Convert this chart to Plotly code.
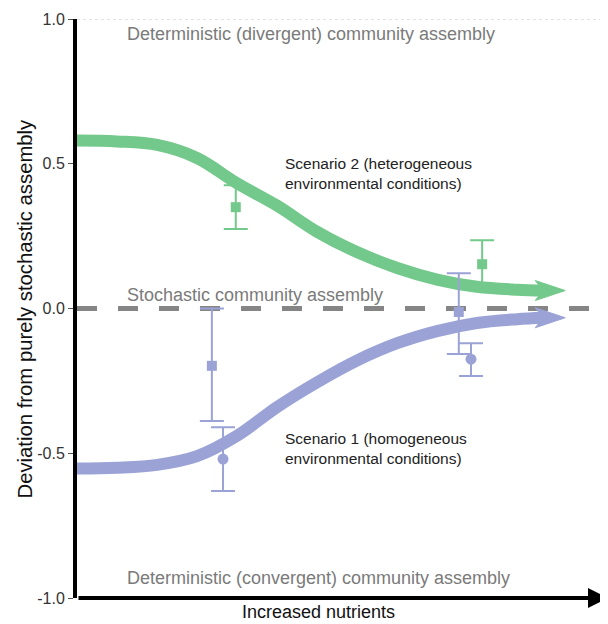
import plotly.graph_objects as go

# ---- data (x in arbitrary "nutrient" units 0..10) ----
curve_x = [0, 0.75, 1.51, 2.26, 3.01, 3.77, 4.52, 5.27, 6.03, 6.78, 7.53, 8.29, 8.78]
green_y = [0.58, 0.577, 0.565, 0.52, 0.433, 0.355, 0.265, 0.195, 0.14, 0.1, 0.075, 0.065, 0.062]
blue_y = [-0.553, -0.55, -0.54, -0.51, -0.44, -0.34, -0.255, -0.18, -0.12, -0.078, -0.05, -0.037, -0.032]

green_pts_x = [2.99, 7.63]
green_pts_y = [0.35, 0.153]
green_err_plus = [0.076, 0.083]
green_err_minus = [0.075, 0.073]

blue_sq_x = [2.54, 7.19]
blue_sq_y = [-0.198, -0.012]
blue_sq_plus = [0.198, 0.134]
blue_sq_minus = [0.191, 0.145]

blue_ci_x = [2.75, 7.42]
blue_ci_y = [-0.52, -0.175]
blue_ci_plus = [0.11, 0.055]
blue_ci_minus = [0.11, 0.058]

y_ticks = [1.0, 0.5, 0.0, -0.5, -1.0]
y_tick_labels = ["1.0", "0.5", "0.0", "-0.5", "-1.0"]

GREEN = "#73c98b"
BLUE = "#9ba3d6"
GRAY_TXT = "#7a7a7a"
FONT = "Liberation Sans, Arial, sans-serif"

# pixel -> data unit conversions (plot area 531 x 579 px)
PX_X = 10 / 531.0
PX_Y = 2 / 579.0


def arrow_head(xe, ye):
    back = 8 * PX_X
    tip = 22 * PX_X
    h = 10 * PX_Y
    xs = [xe - back, xe + tip, xe - back, xe, xe - back]
    ys = [ye + h, ye, ye - h, ye, ye + h]
    return xs, ys


fig = go.Figure()

# curves
for ys, col in [(green_y, GREEN), (blue_y, BLUE)]:
    fig.add_trace(go.Scatter(x=curve_x, y=ys, mode="lines",
                             line=dict(color=col, width=12, shape="spline", smoothing=1.0),
                             hoverinfo="skip", showlegend=False))
    ax_, ay_ = arrow_head(curve_x[-1], ys[-1])
    fig.add_trace(go.Scatter(x=ax_, y=ay_, mode="lines", fill="toself", fillcolor=col,
                             line=dict(color=col, width=1), hoverinfo="skip", showlegend=False))

# error-bar points
fig.add_trace(go.Scatter(x=green_pts_x, y=green_pts_y, mode="markers",
                         marker=dict(symbol="square", size=10, color=GREEN),
                         error_y=dict(type="data", array=green_err_plus, arrayminus=green_err_minus,
                                      color=GREEN, thickness=2, width=12),
                         showlegend=False))
fig.add_trace(go.Scatter(x=blue_sq_x, y=blue_sq_y, mode="markers",
                         marker=dict(symbol="square", size=10, color=BLUE),
                         error_y=dict(type="data", array=blue_sq_plus, arrayminus=blue_sq_minus,
                                      color=BLUE, thickness=2, width=12),
                         showlegend=False))
fig.add_trace(go.Scatter(x=blue_ci_x, y=blue_ci_y, mode="markers",
                         marker=dict(symbol="circle", size=11, color=BLUE),
                         error_y=dict(type="data", array=blue_ci_plus, arrayminus=blue_ci_minus,
                                      color=BLUE, thickness=2, width=12),
                         showlegend=False))

# reference lines
fig.add_shape(type="line", xref="paper", x0=0, x1=1, y0=0, y1=0,
              line=dict(color="#858585", width=5, dash="20px,21px"), layer="below")
fig.add_shape(type="line", xref="paper", x0=0, x1=1, y0=1, y1=1,
              line=dict(color="#c8c8c8", width=1, dash="dot"), layer="below")

# x axis arrow
fig.add_annotation(x=10.0, y=-1, ax=0, ay=-1, xref="x", yref="y", axref="x", ayref="y",
                   text="", showarrow=True, arrowhead=2, arrowsize=1.0, arrowwidth=4,
                   arrowcolor="black")

annots = [
    dict(x=0.9, y=0.947, text="Deterministic (divergent) community assembly", color=GRAY_TXT, size=18),
    dict(x=0.9, y=0.047, text="Stochastic community assembly", color=GRAY_TXT, size=18),
    dict(x=0.9, y=-0.93, text="Deterministic (convergent) community assembly", color=GRAY_TXT, size=18),
    dict(x=3.88, y=0.465, text="Scenario 2 (heterogeneous<br>environmental conditions)", color="#222222", size=15.5),
    dict(x=3.88, y=-0.485, text="Scenario 1 (homogeneous<br>environmental conditions)", color="#222222", size=15.5),
]
for a in annots:
    fig.add_annotation(x=a["x"], y=a["y"], text=a["text"], showarrow=False, xanchor="left",
                       yanchor="middle", align="left",
                       font=dict(family=FONT, size=a["size"], color=a["color"]))

fig.add_annotation(xref="paper", yref="paper", x=0, y=0.5, xshift=-53, xanchor="center", yanchor="middle",
                   text="Deviation from purely stochastic assembly",
                   textangle=-90, showarrow=False, font=dict(family=FONT, size=20.3, color="#111111"))
fig.add_annotation(xref="paper", yref="paper", x=0.455, y=0, yshift=-14, text="Increased nutrients",
                   showarrow=False, yanchor="middle", font=dict(family=FONT, size=18, color="#111111"))

# the page adds an 8px body margin; compensate so the chart lands where the reference has it
fig.update_layout(
    width=600, height=616,
    margin=dict(l=69, r=0, t=11, b=26),
    plot_bgcolor="white", paper_bgcolor="white",
    xaxis=dict(range=[0, 10], showgrid=False, zeroline=False, showline=False,
               showticklabels=False, ticks=""),
    yaxis=dict(range=[-1, 1], showgrid=False, zeroline=False, showline=True, linecolor="black",
               linewidth=4, tickvals=y_ticks, ticktext=y_tick_labels, ticks="outside",
               ticklen=5, tickwidth=1, tickcolor="#555555",
               tickfont=dict(family=FONT, size=16, color="#333333")),
)

fig.write_html("out.html")
